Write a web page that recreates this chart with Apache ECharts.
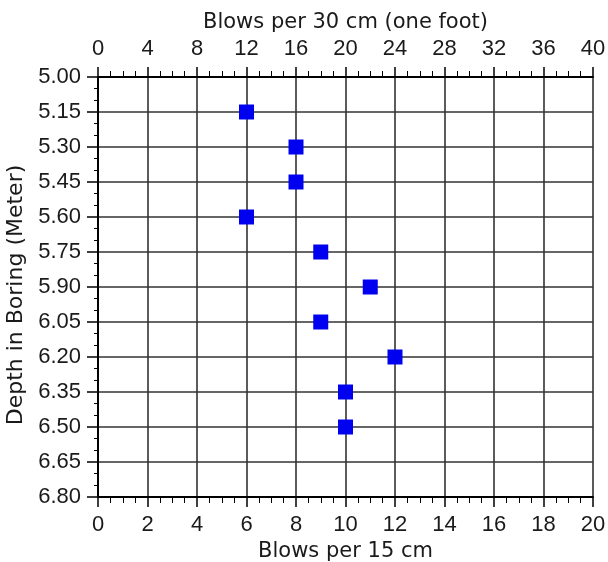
<!DOCTYPE html>
<html><head><meta charset="utf-8">
<script src="https://cdn.jsdelivr.net/npm/echarts@6/dist/echarts.min.js"></script>
<style>html,body{margin:0;padding:0;background:#fff}#c{width:608px;height:562px}</style>
</head><body><div id="c"></div>
<script>
const blows15 = [6, 8, 8, 6, 9, 11, 9, 12, 10, 10];
const depth = [5.15, 5.30, 5.45, 5.60, 5.75, 5.90, 6.05, 6.20, 6.35, 6.50];
const xTitleBottom = 'Blows per 15 cm';
const xTitleTop = 'Blows per 30 cm (one foot)';
const yTitle = 'Depth in Boring (Meter)';

const font = 'Liberation Sans, Arial, Helvetica, sans-serif';
const tfont = 'DejaVu Sans, Liberation Sans, sans-serif';
const chart = echarts.init(document.getElementById('c'));
const axisLine = {show: true, lineStyle: {color: '#000', width: 2}};
const lbl = {fontFamily: font, fontSize: 22, color: '#1a1a1a'};
const ttl = {fontFamily: tfont, fontSize: 21, color: '#1a1a1a'};
chart.setOption({
  animation: false,
  grid: {left: 98, right: 15, top: 77, bottom: 65, containLabel: false, outerBoundsMode: 'none'},
  xAxis: [
    {type: 'value', position: 'bottom', min: 0, max: 20, interval: 2,
     name: xTitleBottom, nameLocation: 'middle', nameGap: 43,
     nameTextStyle: ttl,
     axisLine: axisLine,
     axisTick: {show: true, length: 10, lineStyle: {color: '#000', width: 1.5}},
     minorTick: {show: true, splitNumber: 4, length: 6, lineStyle: {color: '#000', width: 1}},
     axisLabel: Object.assign({margin: 17}, lbl),
     splitLine: {show: true, lineStyle: {color: '#333', width: 1.6}}},
    {type: 'value', position: 'top', min: 0, max: 40, interval: 4,
     name: xTitleTop, nameLocation: 'middle', nameGap: 38,
     nameTextStyle: ttl,
     axisLine: axisLine,
     axisTick: {show: true, length: 10, lineStyle: {color: '#000', width: 1.5}},
     minorTick: {show: true, splitNumber: 4, length: 6, lineStyle: {color: '#000', width: 1}},
     axisLabel: Object.assign({margin: 17}, lbl),
     splitLine: {show: false}}
  ],
  yAxis: {type: 'value', inverse: true, min: 5.00, max: 6.80, interval: 0.15,
    name: yTitle, nameLocation: 'middle', nameGap: 60,
    nameTextStyle: Object.assign({}, ttl, {fontSize: 22, padding: [0, 16, 0, 0]}),
    axisLine: axisLine,
    axisTick: {show: true, length: 11, lineStyle: {color: '#000', width: 1.5}},
    minorTick: {show: true, splitNumber: 3, length: 4, lineStyle: {color: '#000', width: 1}},
    axisLabel: Object.assign({margin: 17, formatter: v => v.toFixed(2)}, lbl),
    splitLine: {show: true, lineStyle: {color: '#333', width: 1.6}}},
  series: [{
    type: 'scatter', xAxisIndex: 0,
    symbol: 'rect', symbolSize: 15,
    itemStyle: {color: '#0000f0', opacity: 1},
    data: blows15.map((b, i) => [b, depth[i]])
  }]
});
</script></body></html>
